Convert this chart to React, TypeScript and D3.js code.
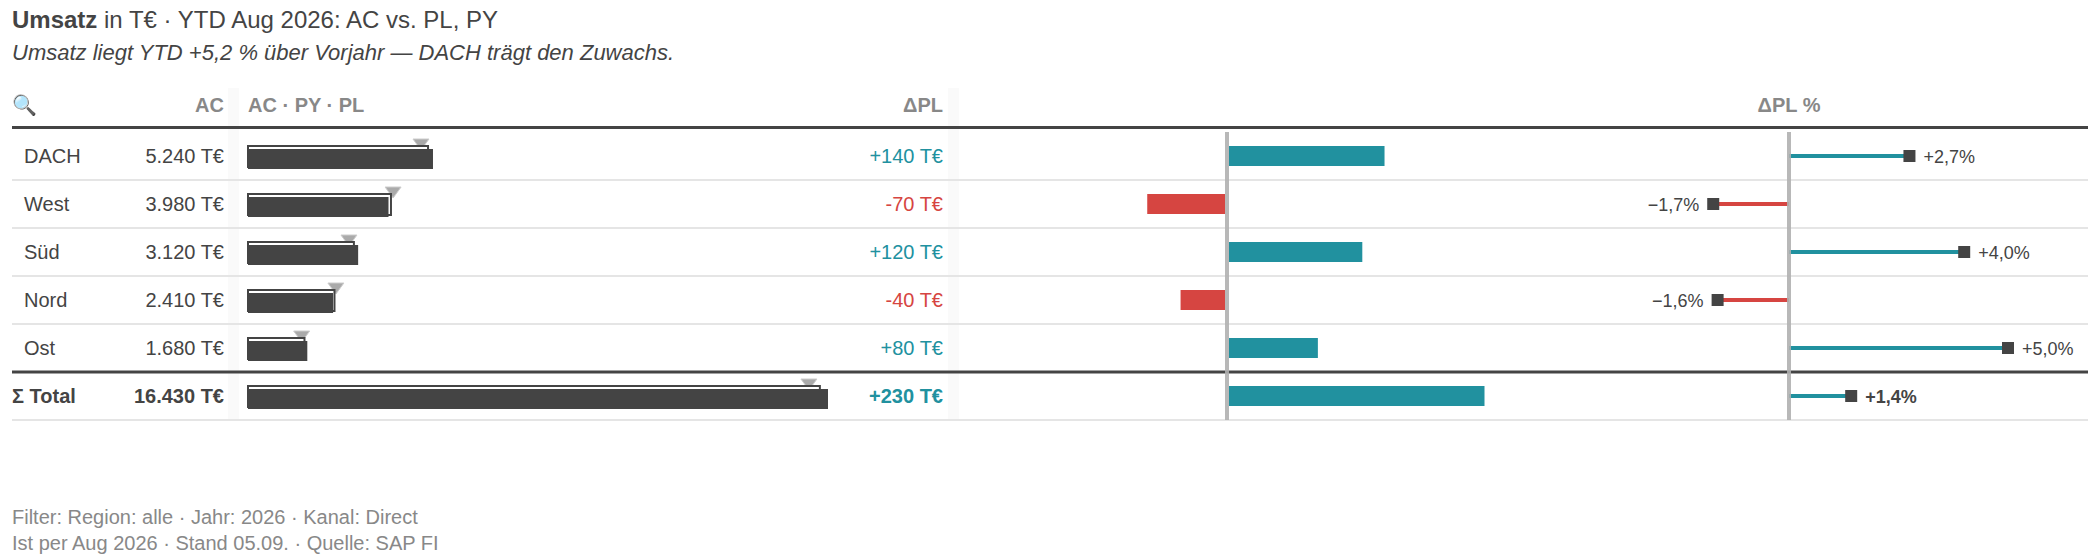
import React, { useEffect, useRef } from 'react';
import * as d3 from 'd3';

const regions = ['DACH', 'West', 'Süd', 'Nord', 'Ost', 'Σ Total'];
const acValues = [5240, 3980, 3120, 2410, 1680, 16430];
const plValues = [5100, 4050, 3000, 2450, 1600, 16200];
const pyValues = [4900, 4110, 2860, 2490, 1520, 15890];
const deltaPl = [140, -70, 120, -40, 80, 230];
const deltaPlPct = [2.75, -1.73, 4.0, -1.63, 5.0, 1.42];
const acLabels = ['5.240 T€', '3.980 T€', '3.120 T€', '2.410 T€', '1.680 T€', '16.430 T€'];
const deltaLabels = ['+140 T€', '-70 T€', '+120 T€', '-40 T€', '+80 T€', '+230 T€'];
const pctLabels = ['+2,7%', '−1,7%', '+4,0%', '−1,6%', '+5,0%', '+1,4%'];
const footerLines = ['Filter: Region: alle · Jahr: 2026 · Kanal: Direct', 'Ist per Aug 2026 · Stand 05.09. · Quelle: SAP FI'];

const TEAL = '#21919f';
const RED = '#d64541';
const DARK = '#444444';
const FONT = '"Liberation Sans", Arial, sans-serif';

export default function App() {
  const svgRef = useRef<SVGSVGElement>(null);

  useEffect(() => {
    if (!svgRef.current) return;
    const svg = d3.select(svgRef.current);
    svg.selectAll('*').remove();
    svg.attr('font-family', FONT);

    const y = d3.scaleBand().domain(regions).range([132, 420]);
    const cy = (i: number) => (y(regions[i]) as number) + y.bandwidth() / 2;
    const x = d3.scaleLinear().domain([0, 16430]).range([248, 828]);
    const xDelta = d3.scaleLinear().domain([0, 230]).range([1227, 1482.5]);
    const xPct = d3.scaleLinear().domain([0, 5]).range([1789, 2008]);
    const totalIndex = regions.length - 1;

    // Title block
    const title = svg.append('text').attr('x', 12).attr('y', 28).attr('font-size', 24).attr('fill', DARK);
    title.append('tspan').attr('font-weight', 'bold').text('Umsatz');
    title.append('tspan').text(' in T€ · YTD Aug 2026: AC vs. PL, PY');
    svg.append('text').attr('x', 12).attr('y', 60).attr('font-size', 22).attr('font-style', 'italic').attr('fill', DARK)
      .text('Umsatz liegt YTD +5,2 % über Vorjahr — DACH trägt den Zuwachs.');

    // Column bands
    [[228, 11], [948, 11]].forEach(([bx, bw]) => {
      svg.append('rect').attr('x', bx).attr('y', 88).attr('width', bw).attr('height', 332).attr('fill', '#fafafa');
    });

    // Header
    const header = svg.append('g').attr('font-size', 20).attr('font-weight', 'bold').attr('fill', '#888');
    header.append('text').attr('x', 12).attr('y', 112).attr('font-weight', 'normal').text('🔍');
    header.append('text').attr('x', 224).attr('y', 112).attr('text-anchor', 'end').text('AC');
    header.append('text').attr('x', 248).attr('y', 112).text('AC · PY · PL');
    header.append('text').attr('x', 943).attr('y', 112).attr('text-anchor', 'end').text('ΔPL');
    header.append('text').attr('x', xPct(0)).attr('y', 112).attr('text-anchor', 'middle').text('ΔPL %');

    // Row lines
    regions.forEach((r, i) => {
      svg.append('line').attr('x1', 12).attr('x2', 2088)
        .attr('y1', (y(r) as number) + 48).attr('y2', (y(r) as number) + 48)
        .attr('stroke', i === totalIndex - 1 ? DARK : '#e5e5e5').attr('stroke-width', i === totalIndex - 1 ? 3 : 2);
    });
    svg.append('line').attr('x1', 12).attr('x2', 2088).attr('y1', 127.5).attr('y2', 127.5).attr('stroke', DARK).attr('stroke-width', 3);

    regions.forEach((r, i) => {
      const c = cy(i);
      const isTotal = i === totalIndex;
      const row = svg.append('g').attr('font-weight', isTotal ? 'bold' : 'normal');

      row.append('text').attr('x', isTotal ? 12 : 24).attr('y', c + 7).attr('font-size', 20).attr('fill', DARK).text(r);
      row.append('text').attr('x', 224).attr('y', c + 7).attr('font-size', 20).attr('text-anchor', 'end').attr('fill', DARK).text(acLabels[i]);

      // PY marker, PL outline, AC bar
      const px = x(pyValues[i]);
      row.append('path').attr('d', d3.line()([[px - 8, c - 17], [px + 8, c - 17], [px, c - 6]]) + 'Z')
        .attr('fill', '#aaa').attr('stroke', '#ccc').attr('stroke-width', 1);
      row.append('rect').attr('x', x(0)).attr('y', c - 10).attr('width', x(plValues[i]) - x(0)).attr('height', 21)
        .attr('fill', '#fff').attr('stroke', DARK).attr('stroke-width', 2);
      row.append('rect').attr('x', x(0)).attr('y', c - 7).attr('width', x(acValues[i]) - x(0)).attr('height', 20).attr('fill', DARK);

      const good = deltaPl[i] >= 0;
      row.append('text').attr('x', 943).attr('y', c + 7).attr('font-size', 20).attr('text-anchor', 'end')
        .attr('fill', good ? TEAL : RED).text(deltaLabels[i]);

      // Delta bars
      const dx = xDelta(deltaPl[i]);
      row.append('rect').attr('x', good ? xDelta(0) + 2 : dx - 2).attr('y', c - 10)
        .attr('width', Math.abs(dx - xDelta(0))).attr('height', 20).attr('fill', good ? TEAL : RED);

      // Percent pins
      const pxp = xPct(deltaPlPct[i]);
      row.append('line').attr('x1', xPct(0)).attr('x2', pxp).attr('y1', c).attr('y2', c)
        .attr('stroke', good ? TEAL : RED).attr('stroke-width', 4);
      row.append('rect').attr('x', pxp - 6).attr('y', c - 6).attr('width', 12).attr('height', 12).attr('fill', DARK);
      row.append('text').attr('x', good ? pxp + 14 : pxp - 14).attr('y', c + 7).attr('font-size', 18)
        .attr('text-anchor', good ? 'start' : 'end').attr('fill', DARK).text(pctLabels[i]);
    });

    // Zero lines
    [xDelta(0), xPct(0)].forEach(zx => {
      svg.append('line').attr('x1', zx).attr('x2', zx).attr('y1', 132).attr('y2', 420)
        .attr('stroke', '#b0b0b0').attr('stroke-width', 4).attr('stroke-opacity', 0.9);
    });

    // Footer
    footerLines.forEach((t, i) => {
      svg.append('text').attr('x', 12).attr('y', 524 + i * 26).attr('font-size', 20).attr('fill', '#888').text(t);
    });
  }, []);

  return (
    <div style={{ position: 'absolute', left: 0, top: 0 }}>
      <svg ref={svgRef} width={2100} height={560} style={{ display: 'block', background: '#fff' }} />
    </div>
  );
}
